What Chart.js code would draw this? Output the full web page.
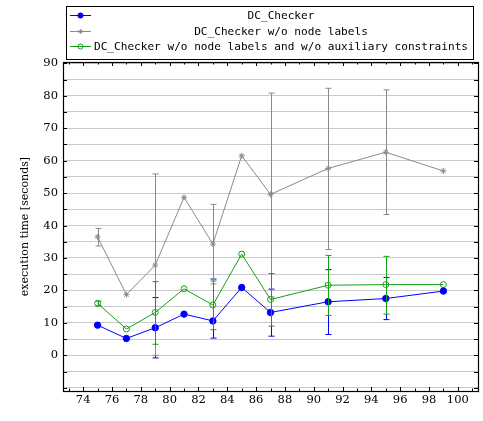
<!DOCTYPE html>
<html>
<head>
<meta charset="utf-8">
<script src="https://cdn.jsdelivr.net/npm/chart.js@4.4.0/dist/chart.umd.min.js"></script>
<style>
  html, body { margin: 0; padding: 0; background: #fff; }
  #wrap { width: 483px; height: 421px; }
</style>
</head>
<body>
<div id="wrap"><canvas id="chart" width="483" height="421"></canvas></div>
<script>
// x values (categories)
const xValues = [75, 77, 79, 81, 83, 85, 87, 91, 95, 99];

// DC_Checker
const dcValues = [9.3, 5.2, 8.5, 12.7, 10.6, 20.9, 13.2, 16.5, 17.5, 19.8];
const dcLow    = [null, null, -0.8, null, 5.3, null, 5.9, 6.4, 11.0, null];
const dcHigh   = [null, null, 17.8, null, 23.5, null, 20.4, 26.4, 24.0, null];

// DC_Checker w/o node labels
const noLabelValues = [36.5, 18.7, 27.8, 48.7, 34.3, 61.5, 49.6, 57.6, 62.6, 56.8];
const noLabelLow    = [33.7, null, 0.0, null, 22.0, null, 18.0, 32.6, 43.4, null];
const noLabelHigh   = [39.1, null, 55.9, null, 46.5, null, 80.8, 82.3, 81.8, null];

// DC_Checker w/o node labels and w/o auxiliary constraints
const noAuxValues = [16.0, 8.1, 13.2, 20.5, 15.5, 31.2, 17.2, 21.6, 21.8, 21.8];
const noAuxLow    = [15.3, null, 3.4, null, 7.9, null, 9.0, 12.3, 12.7, null];
const noAuxHigh   = [16.7, null, 22.7, null, 22.9, null, 25.2, 30.8, 30.5, null];

const seriesLabels = [
  'DC_Checker',
  'DC_Checker w/o node labels',
  'DC_Checker w/o node labels and w/o auxiliary constraints'
];

const xTickLabels = [74, 76, 78, 80, 82, 84, 86, 88, 90, 92, 94, 96, 98, 100];
const yTickLabels = [0, 10, 20, 30, 40, 50, 60, 70, 80, 90];

const serif = '"DejaVu Serif", "Liberation Serif", serif';
const mono = '"DejaVu Sans Mono", "Liberation Mono", monospace';

function points(ys) {
  return xValues.map((x, i) => ({ x: x, y: ys[i] }));
}

// error bars, drawn through the chart scales
const errorBars = {
  id: 'errorBars',
  afterDatasetsDraw(chart) {
    const ctx = chart.ctx;
    const xs = chart.scales.x, ys = chart.scales.y;
    chart.data.datasets.forEach(ds => {
      ctx.save();
      ctx.strokeStyle = ds.borderColor;
      ctx.lineWidth = 1;
      xValues.forEach((x, i) => {
        if (ds.errLow[i] == null) return;
        const px = Math.round(xs.getPixelForValue(x)) + 0.5;
        const top = ys.getPixelForValue(ds.errHigh[i]);
        const bot = ys.getPixelForValue(ds.errLow[i]);
        ctx.beginPath();
        ctx.moveTo(px, top); ctx.lineTo(px, bot);
        ctx.moveTo(px - 3, top); ctx.lineTo(px + 3, top);
        ctx.moveTo(px - 3, bot); ctx.lineTo(px + 3, bot);
        ctx.stroke();
      });
      ctx.restore();
    });
  }
};

// frame, inward ticks and boxed legend
const frame = {
  id: 'frame',
  afterDraw(chart) {
    const ctx = chart.ctx;
    const a = chart.chartArea;
    const xs = chart.scales.x, ys = chart.scales.y;
    ctx.save();
    ctx.strokeStyle = '#000';
    ctx.lineWidth = 1;
    ctx.beginPath();
    for (let v = 73; v <= 101; v++) {
      const px = Math.round(xs.getPixelForValue(v)) + 0.5;
      const len = v % 2 === 0 ? 4 : 2.5;
      ctx.moveTo(px, a.bottom); ctx.lineTo(px, a.bottom - len);
      ctx.moveTo(px, a.top); ctx.lineTo(px, a.top + len);
    }
    for (let v = -10; v <= 90; v += 5) {
      const py = Math.round(ys.getPixelForValue(v)) + 0.5;
      ctx.moveTo(a.left, py); ctx.lineTo(a.left + 4, py);
      ctx.moveTo(a.right, py); ctx.lineTo(a.right - 4, py);
    }
    ctx.stroke();
    ctx.lineWidth = 1.2;
    ctx.strokeRect(Math.round(a.left) + 0.5, Math.round(a.top) + 0.5,
                   Math.round(a.right - a.left), Math.round(a.bottom - a.top));

    // legend box
    const lx = 66, ly = 6, lw = 407, lh = 53;
    ctx.fillStyle = '#fff';
    ctx.fillRect(lx, ly, lw, lh);
    ctx.lineWidth = 1;
    ctx.strokeRect(lx + 0.5, ly + 0.5, lw, lh);
    const rows = [15, 31, 46];
    ctx.font = '11.1px ' + mono;
    ctx.textBaseline = 'middle';
    ctx.textAlign = 'center';
    chart.data.datasets.forEach((ds, i) => {
      const y = rows[i] + 0.5;
      ctx.strokeStyle = ds.borderColor;
      ctx.lineWidth = 1;
      ctx.beginPath();
      ctx.moveTo(70, y); ctx.lineTo(91, y);
      ctx.stroke();
      ctx.beginPath();
      if (ds.pointStyle === 'star') {
        for (let k = 0; k < 3; k++) {
          const t = k * Math.PI / 3 + Math.PI / 2;
          ctx.moveTo(80.5 - 2.5 * Math.cos(t), y - 2.5 * Math.sin(t));
          ctx.lineTo(80.5 + 2.5 * Math.cos(t), y + 2.5 * Math.sin(t));
        }
        ctx.stroke();
      } else {
        ctx.arc(80.5, y, 2.6, 0, Math.PI * 2);
        if (ds.pointBackgroundColor !== 'transparent') {
          ctx.fillStyle = ds.pointBackgroundColor;
          ctx.fill();
        }
        ctx.stroke();
      }
      ctx.fillStyle = '#000';
      ctx.fillText(ds.label, 281, rows[i] + 1);
    });
    ctx.restore();
  }
};

new Chart(document.getElementById('chart'), {
  type: 'line',
  data: {
    datasets: [{
      label: seriesLabels[0],
      data: points(dcValues),
      errLow: dcLow, errHigh: dcHigh,
      borderColor: '#0000ff',
      backgroundColor: '#0000ff',
      pointBackgroundColor: '#0000ff',
      pointBorderColor: '#0000ff',
      pointStyle: 'circle',
      pointRadius: 3.2,
      borderWidth: 1,
      tension: 0
    }, {
      label: seriesLabels[1],
      data: points(noLabelValues),
      errLow: noLabelLow, errHigh: noLabelHigh,
      borderColor: '#8a8a8a',
      backgroundColor: '#8a8a8a',
      pointBackgroundColor: '#8a8a8a',
      pointBorderColor: '#8a8a8a',
      pointStyle: 'star',
      pointRadius: 3,
      borderWidth: 1,
      tension: 0
    }, {
      label: seriesLabels[2],
      data: points(noAuxValues),
      errLow: noAuxLow, errHigh: noAuxHigh,
      borderColor: '#14a014',
      backgroundColor: '#14a014',
      pointBackgroundColor: 'transparent',
      pointBorderColor: '#14a014',
      pointStyle: 'circle',
      pointRadius: 3,
      borderWidth: 1,
      tension: 0
    }]
  },
  options: {
    responsive: false,
    animation: false,
    events: [],
    layout: { padding: { top: 62, right: 5, left: 19, bottom: 0 } },
    plugins: {
      legend: { display: false },
      tooltip: { enabled: false },
      title: { display: false }
    },
    scales: {
      x: {
        type: 'linear',
        min: 72.6,
        max: 101.4,
        afterBuildTicks(scale) {
          scale.ticks = xTickLabels.map(v => ({ value: v }));
        },
        afterFit(scale) { scale.height = 30; },
        ticks: {
          autoSkip: false,
          maxRotation: 0,
          padding: 2,
          color: '#000',
          font: { family: serif, size: 11.5 }
        },
        grid: { display: false, drawTicks: false },
        border: { display: false }
      },
      y: {
        type: 'linear',
        min: -11,
        max: 90.4,
        afterBuildTicks(scale) {
          const t = [];
          for (let v = -10; v <= 90; v += 5) t.push({ value: v });
          scale.ticks = t;
        },
        afterFit(scale) { scale.width = 44; },
        ticks: {
          autoSkip: false,
          padding: 5,
          color: '#000',
          font: { family: serif, size: 11.5 }
        ,
          callback: v => yTickLabels.includes(v) ? String(v) : ''
        },
        grid: { color: '#cacaca', lineWidth: 1, drawTicks: false },
        border: { display: false },
        title: {
          display: true,
          text: 'execution time [seconds]',
          color: '#000',
          padding: { top: 0, bottom: 8 },
          font: { family: serif, size: 11 }
        }
      }
    }
  },
  plugins: [errorBars, frame]
});
</script>
</body>
</html>
